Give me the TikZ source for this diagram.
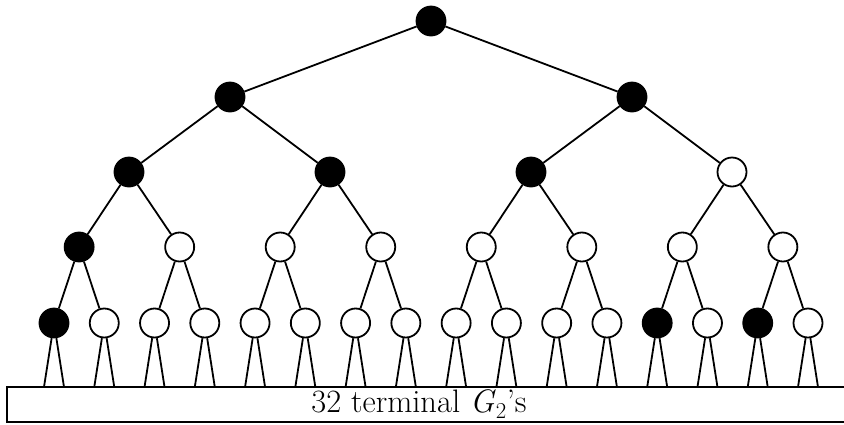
\documentclass[tikz,border=0pt]{standalone}
\usepackage{fontspec}
\begin{document}
\begin{tikzpicture}[x=1pt,y=-1pt,
  treenode/.style={circle,draw,line width=1.8pt,minimum size=29pt,inner sep=0pt},
  bnode/.style={treenode,fill=black},
  wnode/.style={treenode,fill=white},
  edge/.style={line width=1.8pt}]
\useasboundingbox (0,0) rectangle (844,424);
% level 0
\node[bnode] (n0-1) at (431,21) {};
% level 1
\foreach \j/\x/\st in {1/230/bnode,2/632/bnode}
  \node[\st] (n1-\j) at (\x,97) {};
% level 2
\foreach \j/\x/\st in {1/129/bnode,2/330/bnode,3/531/bnode,4/732/wnode}
  \node[\st] (n2-\j) at (\x,172) {};
% level 3
\foreach \j/\st in {1/bnode,2/wnode,3/wnode,4/wnode,5/wnode,6/wnode,7/wnode,8/wnode}{
  \pgfmathsetmacro\xx{54+50.2667*((\j-0.5)*2-0.5)}
  \node[\st] (n3-\j) at (\xx,247) {};
}
% level 4
\foreach \j/\st in {1/bnode,2/wnode,3/wnode,4/wnode,5/wnode,6/wnode,7/wnode,8/wnode,
                    9/wnode,10/wnode,11/wnode,12/wnode,13/bnode,14/wnode,15/bnode,16/wnode}{
  \pgfmathsetmacro\xx{54+50.2667*(\j-1)}
  \node[\st] (n4-\j) at (\xx,323) {};
  \coordinate (la-\j) at (\xx-10,387);
  \coordinate (lb-\j) at (\xx+10,387);
}
% edges
\foreach \k in {0,...,3}{
  \pgfmathtruncatemacro\kk{\k+1}
  \pgfmathtruncatemacro\nn{2^\k}
  \foreach \j in {1,...,\nn}{
    \pgfmathtruncatemacro\a{2*\j-1}
    \pgfmathtruncatemacro\b{2*\j}
    \draw[edge] (n\k-\j) -- (n\kk-\a);
    \draw[edge] (n\k-\j) -- (n\kk-\b);
  }
}
% leaf lines
\foreach \j in {1,...,16}{
  \draw[edge] (n4-\j) -- (la-\j);
  \draw[edge] (n4-\j) -- (lb-\j);
}
% bottom box
\draw[edge] (7.3,387) rectangle (852,421.7);
\node[inner sep=0pt,anchor=base] (label) at (419,412.3) {\fontsize{32.5}{36}\selectfont 32 terminal \textit{G}\textsubscript{2}’s};
\end{tikzpicture}
\end{document}
